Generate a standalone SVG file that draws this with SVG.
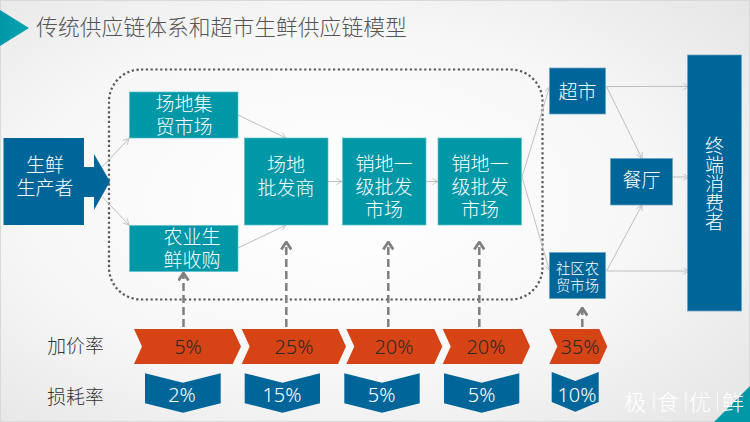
<svg xmlns="http://www.w3.org/2000/svg" width="750" height="422" viewBox="0 0 750 422">
<style>
text{font-family:"Noto Sans CJK SC","Noto Sans",sans-serif;text-anchor:middle;font-weight:300}
.n{fill:#fff;font-size:19px}
.s{fill:#fff;font-size:14.300px}
.teal{fill:#0097a7;stroke:#5cc0cc;stroke-width:.7}
.blue{fill:#006699;stroke:#66a3c2;stroke-width:.7}
.c{fill:none;stroke:#bfbfbf;stroke-width:1;marker-end:url(#a)}
.d{fill:none;stroke:#7f7f7f;stroke-width:2.500;stroke-dasharray:8 4;marker-end:url(#b)}
.o{fill:#d64415}
.b{fill:#006699}
.p{font-size:20px;font-family:"Noto Sans","Noto Sans CJK SC",sans-serif;fill:#2a2a2a}
.q{font-size:20px;font-family:"Noto Sans","Noto Sans CJK SC",sans-serif;fill:#fff}
.l{font-size:18.800px;fill:#333}
.w{font-size:22px;fill:#fff}
.t{font-size:21.800px;fill:#555}
</style>
<defs>
<radialGradient id="bg" cx="45%" cy="48%" r="75%"><stop offset="0" stop-color="#ffffff"/><stop offset=".55" stop-color="#f7f7f7"/><stop offset="1" stop-color="#e4e4e4"/></radialGradient>
<linearGradient id="t" x1="0" x2="1" y1="0" y2="0"><stop offset="0" stop-color="#0097a7"/><stop offset="1" stop-color="#0aa5b0"/></linearGradient>
<marker id="a" viewBox="0 0 8 8" refX="7.500" refY="4" markerWidth="7" markerHeight="7" markerUnits="userSpaceOnUse" orient="auto"><path d="M1 .5L7.500 4L1 7.500" fill="none" stroke="#bfbfbf" stroke-width="1"/></marker>
<marker id="b" viewBox="0 0 12 12" refX="10.500" refY="6" markerWidth="12" markerHeight="12" markerUnits="userSpaceOnUse" orient="auto"><path d="M3 1L10.500 6L3 11" fill="none" stroke="#7f7f7f" stroke-width="2.800"/></marker>
</defs>
<rect width="750" height="422" fill="url(#bg)"/>
<rect x=".5" y=".5" width="749" height="421" fill="none" stroke="#d9d9d9"/>
<polygon points="0,10 29,28 0,46" fill="url(#t)"/>
<text class="t" x="221.500" y="35">传统供应链体系和超市生鲜供应链模型</text>
<polygon points="714,422 750,386 750,422" fill="#0097a7"/>
<rect x="109" y="69.500" width="433.500" height="230" rx="32" fill="none" stroke="#555" stroke-width="2.200" stroke-dasharray="2.200 2.600"/>
<g id="connectors">
<path class="c" d="M102,167L129,138.500"/>
<path class="c" d="M102,196.500L129,225"/>
<path class="c" d="M238,115L286,138"/>
<path class="c" d="M238,248L286,225"/>
<path class="c" d="M328,181.500L342,181.500"/>
<path class="c" d="M426,181.500L438,181.500"/>
<path class="c" d="M522,177L549.500,87"/>
<path class="c" d="M522,177L549.500,270.500"/>
<path class="c" d="M606.500,86.500L689,86.500"/>
<path class="c" d="M606.500,86.500L642,158.500"/>
<path class="c" d="M606.500,271L642,205"/>
<path class="c" d="M606.500,271L689,271"/>
<path class="c" d="M672.500,177L689,177"/>
<path class="d" d="M183.500,327V273"/>
<path class="d" d="M286.300,327V242"/>
<path class="d" d="M388.300,327V242"/>
<path class="d" d="M479.300,327V242"/>
<path class="d" d="M582.300,327V308"/>
</g>
<g id="n1"><path d="M3.500,138H84V167H94V154L110,181.500L94,210V197H84V225H3.500Z" fill="#006699"/><text class="n" x="45"><tspan x="45" y="172">生鲜</tspan><tspan x="45" y="195">生产者</tspan></text></g>
<g id="n2"><rect class="teal" x="129.500" y="92" width="108.500" height="46"/><text class="n"><tspan x="184" y="111">场地集</tspan><tspan x="184" y="134">贸市场</tspan></text></g>
<g id="n3"><rect class="teal" x="129.500" y="225.500" width="108.500" height="46"/><text class="n"><tspan x="192" y="244">农业生</tspan><tspan x="192" y="267">鲜收购</tspan></text></g>
<g id="n4"><rect class="teal" x="244.500" y="138" width="83.500" height="87"/><text class="n"><tspan x="286" y="172">场地</tspan><tspan x="286" y="195">批发商</tspan></text></g>
<g id="n5"><rect class="teal" x="342.500" y="138" width="83.500" height="87"/><text class="n"><tspan x="384" y="171">销地一</tspan><tspan x="384" y="194">级批发</tspan><tspan x="384" y="217">市场</tspan></text></g>
<g id="n6"><rect class="teal" x="438" y="138" width="83.500" height="87"/><text class="n"><tspan x="480" y="171">销地一</tspan><tspan x="480" y="194">级批发</tspan><tspan x="480" y="217">市场</tspan></text></g>
<g id="n7"><rect class="blue" x="549.500" y="68" width="56" height="46"/><text class="n" x="577.500" y="99">超市</text></g>
<g id="n8"><rect class="blue" x="610.500" y="158.500" width="62" height="46.500"/><text class="n" x="641.500" y="186.500">餐厅</text></g>
<g id="n9"><rect class="blue" x="549.500" y="252.500" width="56" height="46"/><text class="s"><tspan x="577.500" y="274">社区农</tspan><tspan x="577.500" y="291">贸市场</tspan></text></g>
<g id="n10"><rect class="blue" x="687.500" y="55" width="54" height="256"/><text class="n" x="714.500" y="183.500" style="writing-mode:vertical-rl;text-orientation:upright">终端消费者</text></g>
<g id="markup">
<text class="l" x="75.500" y="353">加价率</text>
<polygon class="o" points="134,329 232.700,329 241,346.500 232.700,364 134,364 142,346.500"/><text class="p" x="188" y="353.500">5%</text>
<polygon class="o" points="241.700,329 338,329 346,346.500 338,364 241.700,364 249.700,346.500"/><text class="p" x="294" y="353.500">25%</text>
<polygon class="o" points="346.300,329 434.300,329 442.300,346.500 434.300,364 346.300,364 354.300,346.500"/><text class="p" x="394" y="353.500">20%</text>
<polygon class="o" points="442.700,329 522,329 530,346.500 522,364 442.700,364 450.700,346.500"/><text class="p" x="486" y="353.500">20%</text>
<polygon class="o" points="549.300,329 599.300,329 607.300,346.500 599.300,364 549.300,364 557.300,346.500"/><text class="p" x="580" y="353.500">35%</text>
</g>
<g id="loss">
<text class="l" x="75.500" y="404">损耗率</text>
<polygon class="b" points="145,373.300 183,382.700 220.700,373.300 220.700,403.300 183,412.700 145,403.300"/><text class="q" x="182" y="401.500">2%</text>
<polygon class="b" points="244.700,373.300 282.500,382.700 320,373.300 320,403.300 282.500,412.700 244.700,403.300"/><text class="q" x="282" y="401.500">15%</text>
<polygon class="b" points="344.300,373.300 382,382.700 419.700,373.300 419.700,403.300 382,412.700 344.300,403.300"/><text class="q" x="381.700" y="401.500">5%</text>
<polygon class="b" points="444,373.300 481.700,382.700 519.300,373.300 519.300,403.300 481.700,412.700 444,403.300"/><text class="q" x="481.700" y="401.500">5%</text>
<polygon class="b" points="551.700,372 575.300,381 598.700,372 598.700,402 575.300,411.700 551.700,402"/><text class="q" x="577" y="401.500">10%</text>
</g>
<g id="wm"><text class="w" x="635" y="410">极</text><text class="w" x="668" y="410">食</text><text class="w" x="700" y="410">优</text><text class="w" x="733" y="410">鲜</text><path d="M654,392V411M686,392V411M717.500,392V411" stroke="#fff" stroke-width=".8" fill="none"/></g>
</svg>
